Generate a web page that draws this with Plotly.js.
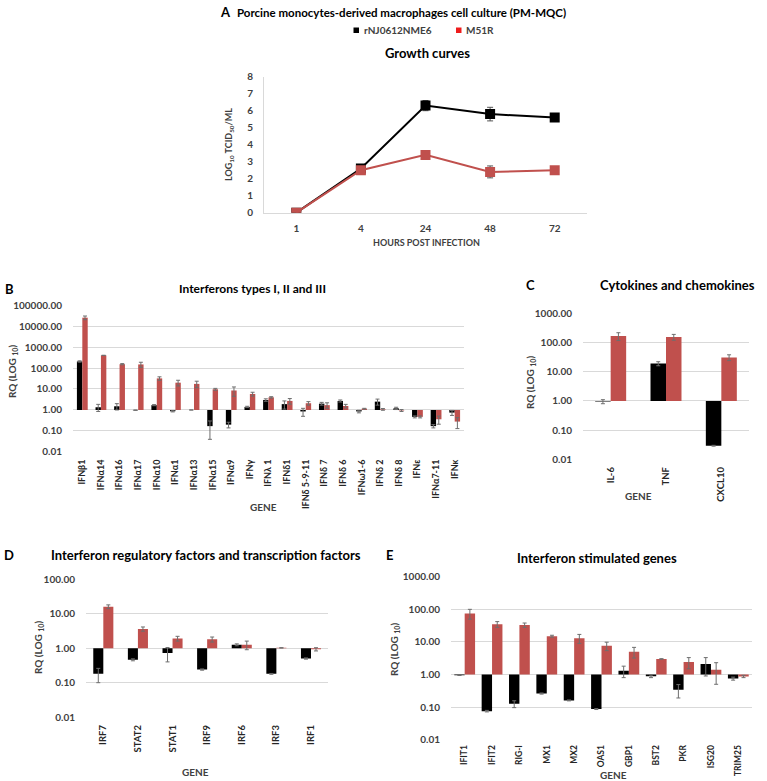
<!DOCTYPE html>
<html>
<head>
<meta charset="utf-8">
<script src="https://cdn.plot.ly/plotly-3.0.1.min.js"></script>
<style>html,body{margin:0;padding:0;background:#fff;}#chart{width:767px;height:781px;}</style>
</head>
<body>
<div id="chart"></div>
<script>
// ---------- DATA ----------
const hours = ['1', '4', '24', '48', '72'];
const growthParent = [0, 2.6, 6.3, 5.8, 5.6];
const growthParentErr = [0, 0.15, 0.3, 0.4, 0.2];
const growthM51R = [0, 2.5, 3.4, 2.4, 2.5];
const growthM51RErr = [0, 0.12, 0.15, 0.35, 0.15];

const ifnGenes = ['IFNβ1','IFNα14','IFNα16','IFNα17','IFNα10','IFNα1','IFNα13','IFNα15','IFNα9','IFNγ','IFNλ 1','IFNδ1','IFNδ 5-9-11','IFNδ 7','IFNδ 6','IFNω1-6','IFNδ 2','IFNδ 8','IFNε','IFNα7-11','IFNκ'];
const ifnParent = [205, 1.35, 1.5, 0.98, 1.7, 0.87, 1.0, 0.17, 0.2, 1.4, 3.0, 1.9, 0.85, 2.0, 2.7, 0.85, 2.5, 1.2, 0.47, 0.17, 0.75];
const ifnParentErr = [15, 0.5, 0.5, 0.02, 0.1, 0.06, 0, 0.13, 0.06, 0.1, 0.4, 0.8, 0.35, 0.3, 0.3, 0.12, 0.8, 0.15, 0.05, 0.03, 0.2];
const ifnM51R = [25000, 400, 152, 148, 32, 20, 17.5, 9.7, 8.5, 5.8, 4.0, 2.7, 2.1, 1.7, 1.55, 1.15, 1.07, 0.95, 0.47, 0.36, 0.28];
const ifnM51RErr = [5000, 0, 10, 40, 6, 6, 6, 1, 4, 1.2, 0.3, 0.8, 0.4, 0.5, 0.3, 0.05, 0.1, 0.1, 0.05, 0.15, 0.15];

const ckGenes = ['IL-6', 'TNF', 'CXCL10'];
const ckParent = [0.95, 19, 0.029];
const ckParentErr = [0.15, 3, 0.001];
const ckM51R = [167, 155, 31];
const ckM51RErr = [50, 35, 7];

const irfGenes = ['IRF7', 'STAT2', 'STAT1', 'IRF9', 'IRF6', 'IRF3', 'IRF1'];
const irfParent = [0.18, 0.46, 0.72, 0.24, 1.25, 0.18, 0.5];
const irfParentErr = [0.08, 0.03, 0.32, 0.01, 0.08, 0.005, 0.02];
const irfM51R = [15.9, 3.6, 1.9, 1.8, 1.25, 1.02, 0.93];
const irfM51RErr = [2, 0.5, 0.3, 0.3, 0.35, 0.01, 0.1];

const isgGenes = ['IFIT1','IFIT2','RIG-I','MX1','MX2','OAS1','GBP1','BST2','PKR','ISG20','TRIM25'];
const isgParent = [0.95, 0.075, 0.126, 0.26, 0.16, 0.087, 1.3, 0.88, 0.34, 2.1, 0.75];
const isgParentErr = [0.02, 0.004, 0.03, 0.01, 0.005, 0.003, 0.5, 0.08, 0.15, 1.2, 0.08];
const isgM51R = [75, 35, 33, 15, 13, 7.6, 5.0, 3.0, 2.4, 1.4, 0.87];
const isgM51RErr = [25, 7, 5, 1, 4, 2.2, 1.8, 0.05, 0.9, 0.9, 0.07];

const seriesNames = ['rNJ0612NME6', 'M51R'];
const tickVals = [0.01, 0.1, 1, 10, 100, 1000, 10000, 100000];
const tickText = ['0.01', '0.10', '1.00', '10.00', '100.00', '1000.00', '10000.00', '100000.00'];
const growthTicks = [0, 1, 2, 3, 4, 5, 6, 7, 8];

// ---------- STYLE ----------
const W = 767, H = 781;
const fx = p => p / W;
const fy = p => 1 - p / H;
const BLACK = '#000000', RED = '#c0504d', ERR = '#6e6e6e';
const FONT = 'Lato, "Open Sans", sans-serif';
const tickFont = {family: FONT, size: 10, color: '#404040', weight: 'bold'};
const catFont = s => ({family: FONT, size: s, color: '#262626', weight: 'bold'});

function barPair(genes, pv, pe, mv, me, ax, w) {
  const mk = (vals, errs, color, offset, name) => ({
    type: 'bar', name: name, showlegend: false,
    x: genes, y: vals.map(v => v - 1), base: 1,
    width: w, offset: offset,
    xaxis: 'x' + ax, yaxis: 'y' + ax,
    marker: {color: color, line: {width: 0}},
    error_y: {type: 'data', array: errs, visible: true, color: ERR, thickness: 1, width: 2}
  });
  return [mk(pv, pe, BLACK, -w, seriesNames[0]), mk(mv, me, RED, 0, seriesNames[1])];
}

const traces = [
  {type: 'scatter', mode: 'lines+markers', name: seriesNames[0], x: hours, y: growthParent,
   xaxis: 'x', yaxis: 'y', line: {color: BLACK, width: 2}, marker: {symbol: 'square', size: 10, color: BLACK},
   error_y: {type: 'data', array: growthParentErr, visible: true, color: '#555', thickness: 1, width: 3}, showlegend: false},
  {type: 'scatter', mode: 'lines+markers', name: seriesNames[1], x: hours, y: growthM51R,
   xaxis: 'x', yaxis: 'y', line: {color: RED, width: 2}, marker: {symbol: 'square', size: 10, color: RED},
   error_y: {type: 'data', array: growthM51RErr, visible: true, color: '#555', thickness: 1, width: 3}, showlegend: false},
  ...barPair(ifnGenes, ifnParent, ifnParentErr, ifnM51R, ifnM51RErr, 2, 0.29),
  ...barPair(ckGenes, ckParent, ckParentErr, ckM51R, ckM51RErr, 3, 0.28),
  ...barPair(irfGenes, irfParent, irfParentErr, irfM51R, irfM51RErr, 4, 0.29),
  ...barPair(isgGenes, isgParent, isgParentErr, isgM51R, isgM51RErr, 5, 0.38)
];

function catAxis(x0, x1, anchor, fs, tl) {
  return {domain: [fx(x0), fx(x1)], anchor: anchor, type: 'category', showgrid: false, zeroline: false,
    showline: false, ticks: 'outside', ticklen: tl, tickcolor: 'rgba(0,0,0,0)', tickangle: -90,
    tickfont: catFont(fs), fixedrange: true};
}
function logAxis(yTop, yBot, lo, hi, anchor) {
  return {domain: [fy(yBot), fy(yTop)], anchor: anchor, type: 'log', range: [lo - 0.002, hi + 0.002],
    tickvals: tickVals, ticktext: tickText, showgrid: true, gridcolor: '#d9d9d9', gridwidth: 1,
    zeroline: false, showline: false, ticks: 'outside', ticklen: 8, tickcolor: 'rgba(0,0,0,0)',
    tickfont: tickFont, fixedrange: true};
}

const txt = (t, x, y, size, opts) => Object.assign({
  text: t, x: fx(x), y: fy(y), xref: 'paper', yref: 'paper', showarrow: false,
  xanchor: 'center', yanchor: 'middle',
  font: {family: FONT, size: size, color: '#000', weight: 'bold'}
}, opts || {});
const grayFont = s => ({family: FONT, size: s, color: '#404040', weight: 'bold'});

const annotations = [
  txt('A', 225, 12, 13),
  txt('Porcine monocytes-derived macrophages cell culture (PM-MQC)', 401, 12, 11.5),
  txt(seriesNames[0], 362, 30, 10, {xanchor: 'left', font: grayFont(10)}),
  txt(seriesNames[1], 464, 30, 10, {xanchor: 'left', font: grayFont(10)}),
  txt('Growth curves', 427, 53, 13),
  txt('LOG<sub>10</sub> TCID<sub>50</sub>/ML', 229, 145, 9, {textangle: -90, font: grayFont(9)}),
  txt('HOURS POST INFECTION', 426, 243, 9, {font: grayFont(9)}),

  txt('B', 9, 289, 13),
  txt('Interferons types I, II and III', 252, 289, 12),
  txt('RQ (LOG <sub>10</sub>)', 12, 372, 10, {textangle: -90, font: grayFont(10)}),
  txt('GENE', 263, 507, 10, {font: grayFont(10)}),

  txt('C', 530, 285, 13),
  txt('Cytokines and chemokines', 677, 285, 13),
  txt('RQ (LOG <sub>10</sub>)', 531, 383, 10, {textangle: -90, font: grayFont(10)}),
  txt('GENE', 638, 496, 10, {font: grayFont(10)}),

  txt('D', 9, 555, 13),
  txt('Interferon regulatory factors and transcription factors', 206, 555, 13),
  txt('RQ (LOG <sub>10</sub>)', 38, 648, 10, {textangle: -90, font: grayFont(10)}),
  txt('GENE', 195, 772, 10, {font: grayFont(10)}),

  txt('E', 389, 555, 13),
  txt('Interferon stimulated genes', 597, 558, 13),
  txt('RQ (LOG <sub>10</sub>)', 394, 650, 10, {textangle: -90, font: grayFont(10)}),
  txt('GENE', 613, 775, 10, {font: grayFont(10)})
];

const shapes = [
  {type: 'rect', xref: 'paper', yref: 'paper', x0: fx(353.5), x1: fx(359), y0: fy(33), y1: fy(27.5), fillcolor: BLACK, line: {width: 0}},
  {type: 'rect', xref: 'paper', yref: 'paper', x0: fx(456), x1: fx(461.5), y0: fy(33), y1: fy(27.5), fillcolor: '#ee1c1c', line: {width: 0}}
];

const layout = {
  width: W, height: H, margin: {l: 0, r: 0, t: 0, b: 0},
  paper_bgcolor: '#fff', plot_bgcolor: 'rgba(0,0,0,0)',
  showlegend: false, barmode: 'overlay',
  font: {family: FONT, color: '#404040'},
  xaxis: {domain: [fx(264), fx(587)], anchor: 'y', type: 'category', range: [-0.5, 4.5],
    showgrid: false, zeroline: false, showline: true, linecolor: '#d9d9d9', linewidth: 1,
    ticks: 'outside', ticklen: 6, tickcolor: 'rgba(0,0,0,0)', tickfont: tickFont, fixedrange: true},
  yaxis: {domain: [fy(212.7), fy(76.7)], anchor: 'x', range: [0, 8], tickvals: growthTicks,
    showgrid: false, zeroline: false, showline: true, linecolor: '#d9d9d9', linewidth: 1,
    ticks: 'outside', ticklen: 8, tickcolor: 'rgba(0,0,0,0)', tickfont: tickFont, fixedrange: true},
  xaxis2: catAxis(73, 464, 'y2', 9, 3),
  yaxis2: logAxis(305, 452, -2, 5, 'x2'),
  xaxis3: catAxis(583, 749, 'y3', 9.5, 3),
  yaxis3: logAxis(313.3, 459.3, -2, 3, 'x3'),
  xaxis4: catAxis(86, 328.3, 'y4', 9.5, 3),
  yaxis4: logAxis(579, 717.3, -2, 2, 'x4'),
  xaxis5: catAxis(451, 752, 'y5', 8.5, 1),
  yaxis5: logAxis(576.7, 739.7, -2, 3, 'x5'),
  annotations: annotations,
  shapes: shapes
};

Plotly.newPlot('chart', traces, layout, {staticPlot: true, displayModeBar: false});
</script>
</body>
</html>
